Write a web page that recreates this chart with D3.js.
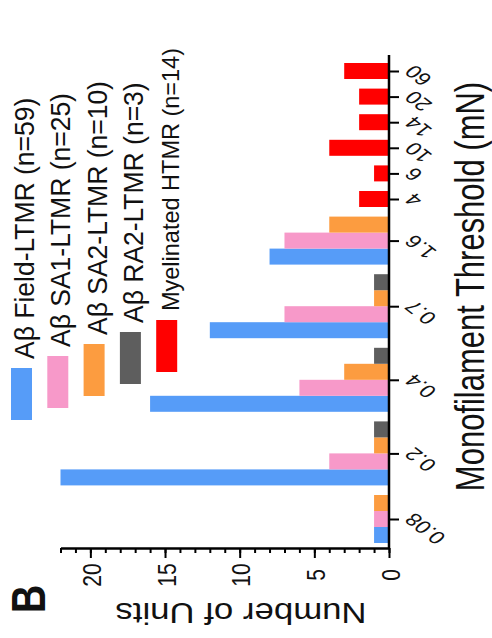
<!DOCTYPE html>
<html>
<head>
<meta charset="utf-8">
<script src="https://cdn.jsdelivr.net/npm/d3@7"></script>
<style>
  body { margin: 0; background: #fff; }
  text { font-family: "Liberation Sans", Arial, sans-serif; fill: #111; }
</style>
</head>
<body>
<svg id="chart" width="492" height="638"></svg>
<script>
// Data (counts of units per monofilament threshold)
var categories = ["0.08", "0.2", "0.4", "0.7", "1.6", "4", "6", "10", "14", "20", "60"];
var seriesNames = ["A\u03b2 Field-LTMR (n=59)", "A\u03b2 SA1-LTMR (n=25)", "A\u03b2 SA2-LTMR (n=10)",
                   "A\u03b2 RA2-LTMR (n=3)", "Myelinated HTMR (n=14)"];
var fieldLTMR = [1, 22, 16, 12, 8, 0, 0, 0, 0, 0, 0];
var sa1LTMR   = [1, 4, 6, 7, 7, 0, 0, 0, 0, 0, 0];
var sa2LTMR   = [1, 1, 3, 1, 4, 0, 0, 0, 0, 0, 0];
var ra2LTMR   = [0, 1, 1, 1, 0, 0, 0, 0, 0, 0, 0];
var htmr      = [0, 0, 0, 0, 0, 2, 1, 4, 2, 2, 3];
var valueTicks = [0, 5, 10, 15, 20];

var svg = d3.select("#chart");
var allSeries = [fieldLTMR, sa1LTMR, sa2LTMR, ra2LTMR, htmr];
var color = d3.scaleOrdinal()
              .domain(d3.range(seriesNames.length))
              .range(["#569cf8", "#f799c9", "#fc9c40", "#5e5e5e", "#ff0000"]);

// the figure is drawn rotated: values run right-to-left, categories bottom-to-top.
// every non-zero bar takes one slot, groups are split by a gap
var gap = 0.6;
var bars = [], centers = [], cursor = 0;
categories.forEach(function(c, i) {
    var start = cursor;
    allSeries.forEach(function(vals, s) {
        if (vals[i] > 0) {
            bars.push({ cat: c, series: s, value: vals[i], slot: cursor });
            cursor += 1;
        }
    });
    centers.push((start + cursor) / 2);
    cursor += gap;
});
var total = cursor - gap;

var x = d3.scaleLinear().domain([0, 22]).range([389, 60.5]);
var y = d3.scaleLinear().domain([0, total]).range([543, 63]);

function place(sel, tx, ty, kx, angle) {
    return sel.attr("transform", "translate(" + tx + "," + ty + ") scale(" + kx + ",1) rotate(" + angle + ")");
}

// bars
svg.append("g").selectAll("rect")
    .data(bars)
    .enter()
    .append("rect")
    .attr("x", function(d) { return x(d.value); })
    .attr("y", function(d) { return y(d.slot + 1); })
    .attr("width", function(d) { return x(0) - x(d.value); })
    .attr("height", function(d) { return y(d.slot) - y(d.slot + 1); })
    .attr("fill", function(d) { return color(d.series); });

// value axis (bottom of page)
var axisY = y(-0.3125);
var minor = svg.append("g")
    .attr("transform", "translate(0," + axisY + ")")
    .call(d3.axisBottom(x).tickValues(d3.range(0, 23)).tickSize(5).tickFormat(""));
minor.select(".domain").remove();
minor.selectAll("line").attr("stroke-width", 2);

var major = svg.append("g")
    .attr("transform", "translate(0," + axisY + ")")
    .call(d3.axisBottom(x).tickValues(valueTicks).tickSize(10).tickSizeOuter(0));
major.select(".domain").attr("stroke-width", 2.5);
major.selectAll("line").attr("stroke-width", 2);
major.selectAll("text")
    .attr("x", null).attr("y", null)
    .attr("dy", "0.35em")
    .attr("text-anchor", "middle")
    .attr("font-size", 21)
    .attr("fill", "#111")
    .each(function() { place(d3.select(this), 1, 27, 1.25, -90); });

// category axis (right side of page)
svg.append("line")
    .attr("x1", x(0)).attr("x2", x(0))
    .attr("y1", axisY).attr("y2", y(total + 0.5))
    .attr("stroke", "#000").attr("stroke-width", 2.5);

var catAxis = svg.append("g")
    .attr("transform", "translate(" + x(0) + ",0)")
    .call(d3.axisRight(y).tickValues(centers).tickSize(10)
            .tickFormat(function(d, i) { return categories[i]; }));
catAxis.select(".domain").remove();
catAxis.selectAll("line").attr("stroke-width", 2);
catAxis.selectAll("text")
    .attr("x", null).attr("y", null)
    .attr("dy", "0.35em")
    .attr("text-anchor", "end")
    .attr("font-size", 18)
    .attr("fill", "#111")
    .each(function() { place(d3.select(this), 20, -3, 1.3, -135); });

// axis titles
place(svg.append("text"), 241, 603, 1.16, 180)
    .attr("text-anchor", "middle")
    .attr("font-size", 30)
    .text("Number of Units");

place(svg.append("text"), 484, 286.5, 1.3, -90)
    .attr("text-anchor", "middle")
    .attr("font-size", 31)
    .text("Monofilament Threshold (mN)");

// panel letter
place(svg.append("text"), 45, 599, 1.25, -90)
    .attr("text-anchor", "middle")
    .attr("font-size", 39)
    .attr("font-weight", "bold")
    .text("B");

// legend, stacked along the left edge
var legend = svg.append("g").selectAll("g")
    .data(seriesNames)
    .enter()
    .append("g")
    .attr("transform", function(d, i) {
        return "translate(" + (11 + i * 36.3) + "," + (368 - i * 12) + ")";
    });

legend.append("rect")
    .attr("width", 21)
    .attr("height", 52)
    .attr("fill", function(d, i) { return color(i); });

legend.append("text")
    .attr("font-size", function(d, i) { return i === 4 ? 23.5 : 26.5; })
    .text(function(d) { return d; })
    .each(function() { place(d3.select(this), 23, -9, 1.05, -90); });
</script>
</body>
</html>
